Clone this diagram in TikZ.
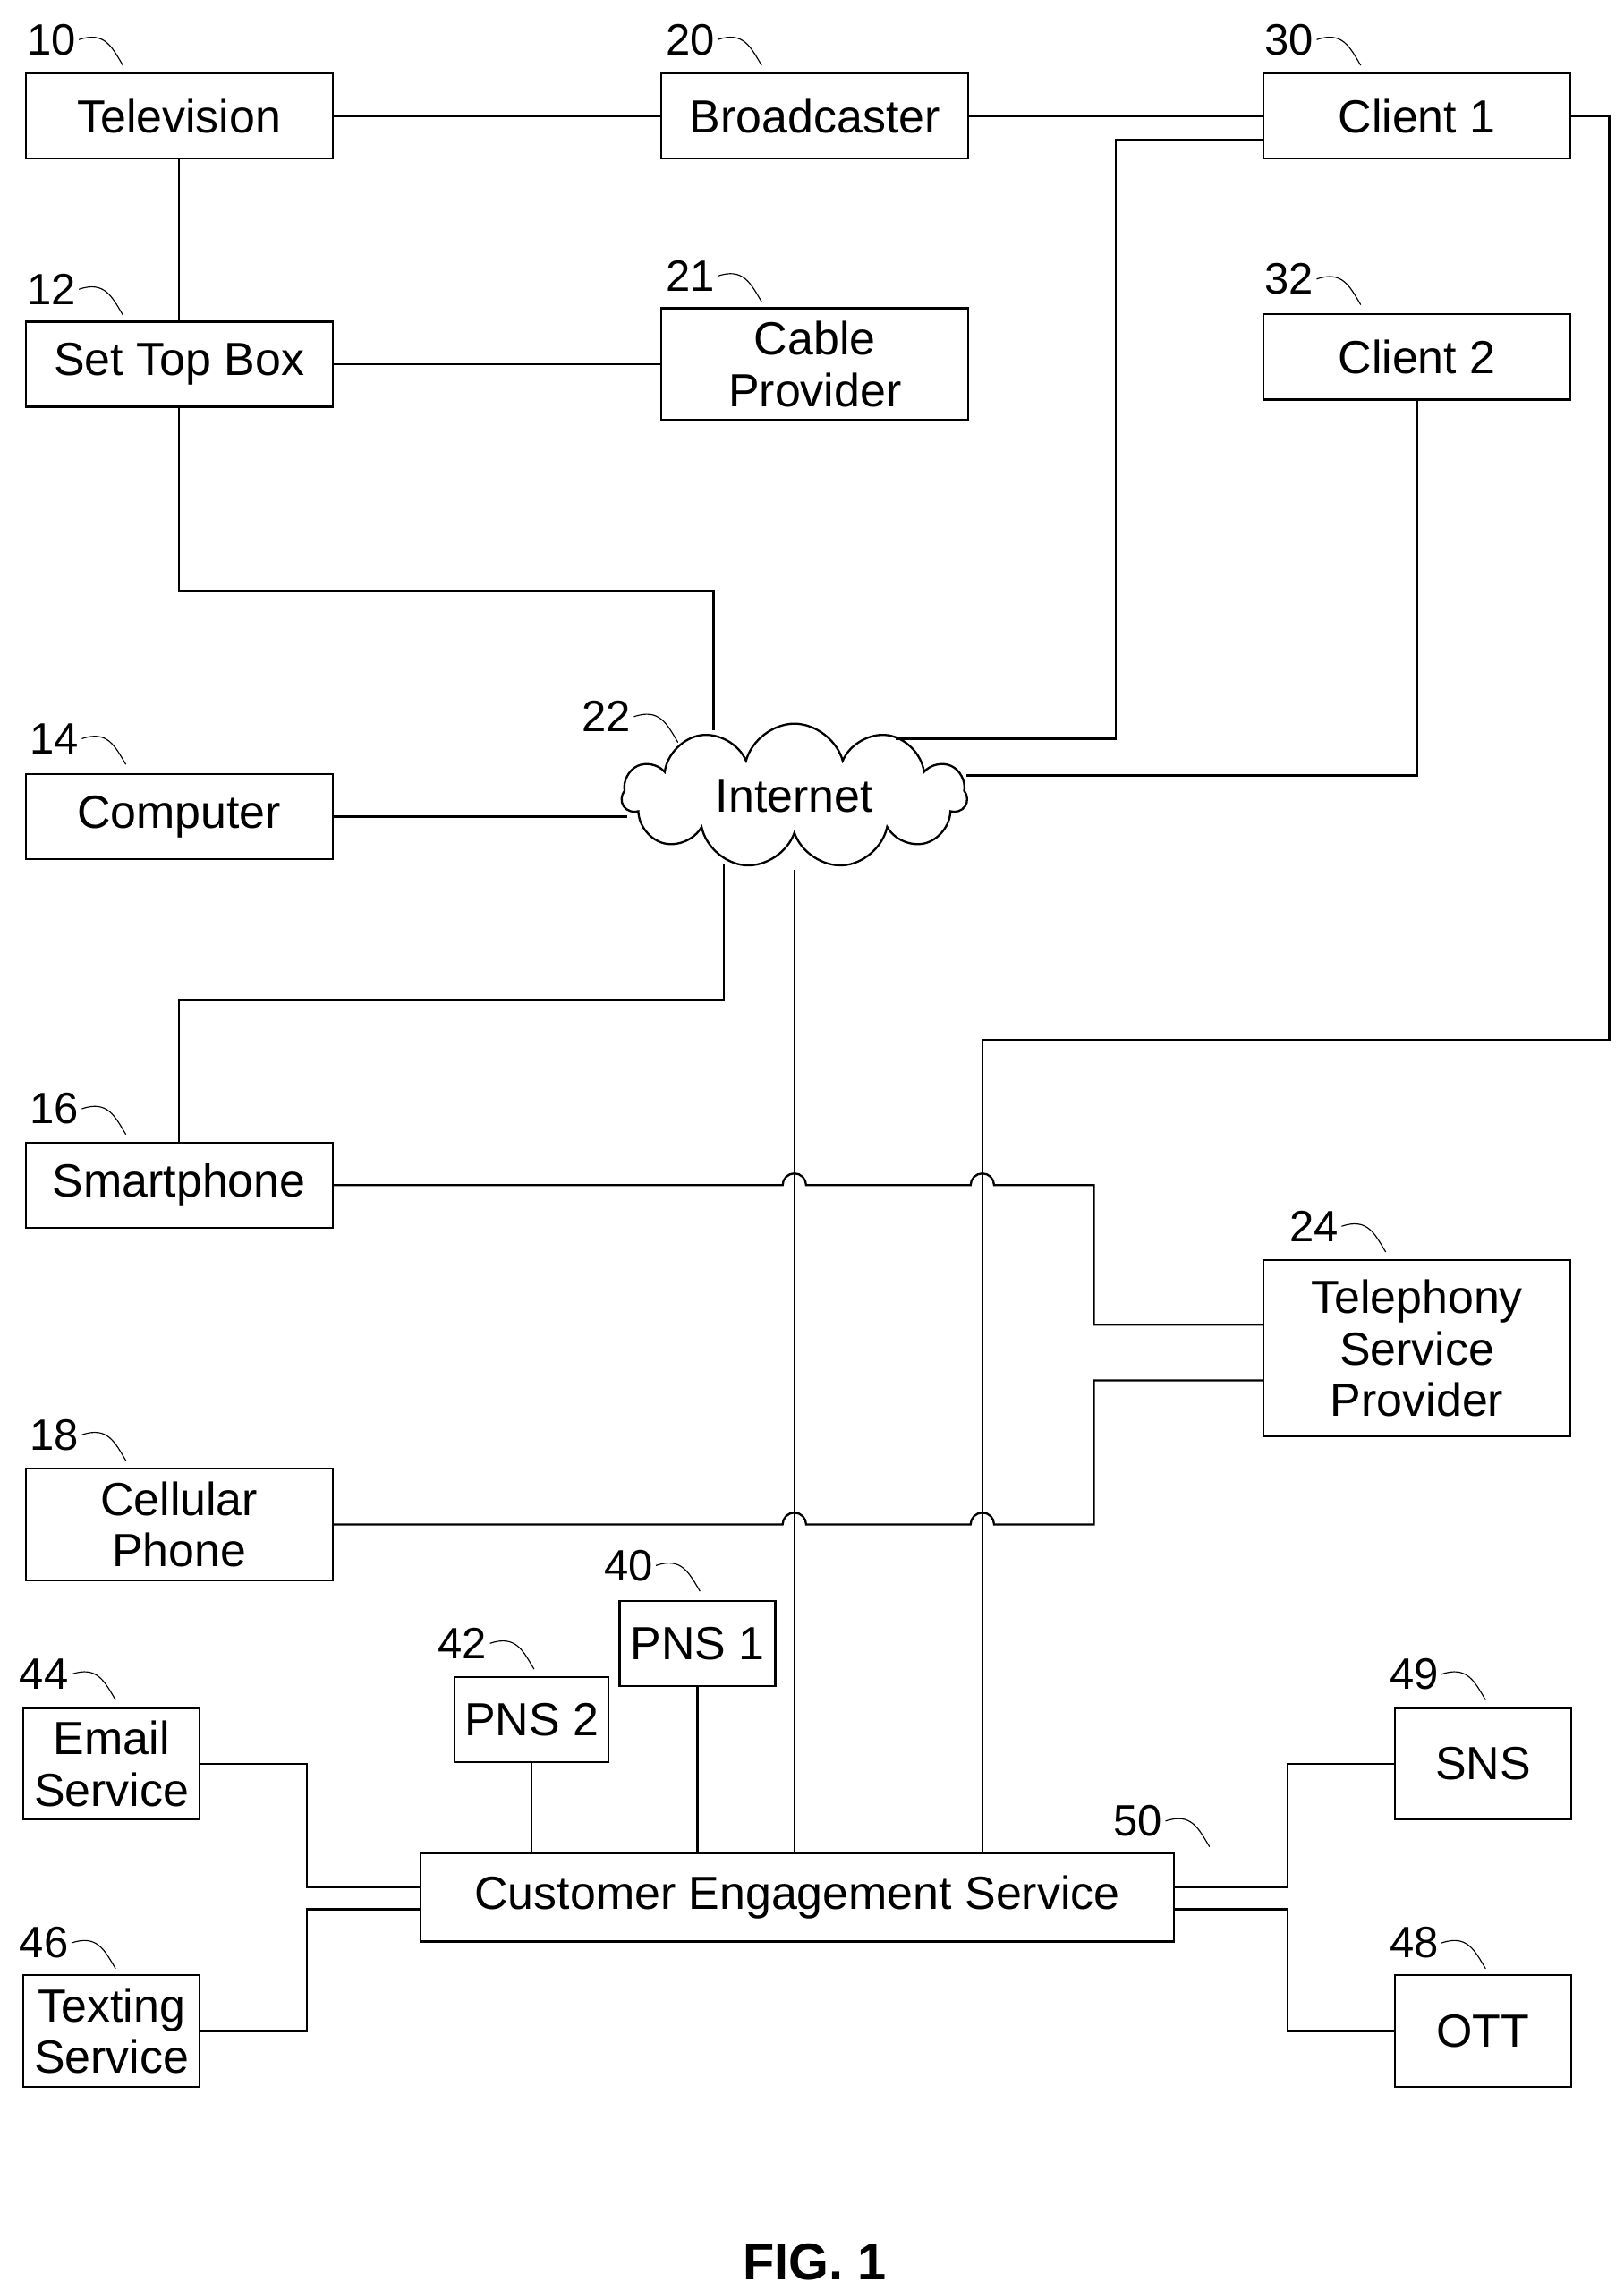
\documentclass[tikz,border=0pt]{standalone}
\usepackage{fontspec}
\setmainfont{Liberation Sans}
\usetikzlibrary{shapes.symbols}
\begin{document}
\begin{tikzpicture}
    [x=0.02cm,y=-0.02cm,
    box/.style={draw,thick,inner sep=0pt,align=center,font=\fontsize{18}{20}\selectfont,
        minimum width=4.18cm,minimum height=1.16cm},
    small box/.style={box,minimum width=2.4cm,minimum height=1.52cm},
    ref/.style={font=\fontsize{17}{18}\selectfont,inner sep=1pt},
    link/.style={thick},
    ]
    \useasboundingbox (0,0) rectangle (1106,1560);

    %boxes
    \node[box] (tv) at (122,79) {Television};
    \node[box] (bc) at (555,79) {Broadcaster};
    \node[box] (c1) at (965,79) {Client 1};
    \node[box] (stb) at (122,248) {Set Top Box};
    \node[box,minimum height=1.52cm] (cable) at (555,248) {Cable\\Provider};
    \node[box] (c2) at (965,243) {Client 2};
    \node[cloud,draw,thick,cloud puffs=11,aspect=2.6,minimum width=4.7cm,minimum height=1.9cm,
        font=\fontsize{18}{20}\selectfont] (inet) at (541,542) {Internet};
    \node[box] (comp) at (122,556) {Computer};
    \node[box] (sp) at (122,807) {Smartphone};
    \node[box,minimum height=2.4cm] (tel) at (965,918) {Telephony\\Service\\Provider};
    \node[box,minimum height=1.52cm] (cell) at (122,1038) {Cellular\\Phone};
    \node[box,minimum width=2.12cm] (pns1) at (475,1119) {PNS 1};
    \node[box,minimum width=2.1cm] (pns2) at (362,1171) {PNS 2};
    \node[small box] (email) at (76,1201) {Email\\Service};
    \node[small box] (text) at (76,1383) {Texting\\Service};
    \node[box,minimum width=10.26cm,minimum height=1.2cm] (ces) at (543,1292) {Customer Engagement Service};
    \node[small box] (sns) at (1010,1201) {SNS};
    \node[small box] (ott) at (1010,1383) {OTT};
    \node[font=\bfseries\fontsize{20}{22}\selectfont] (fig) at (555,1540) {FIG. 1};

    %reference numbers
    \foreach \n/\x/\y in {10/35/27, 20/470/27, 30/878/27, 12/35/197, 21/470/188, 32/878/190,
        22/413/488, 14/37/503, 16/37/755, 24/895/835, 18/37/977, 40/428/1066, 42/315/1119,
        44/30/1140, 46/30/1323, 50/775/1240, 49/963/1140, 48/963/1323}{
        \node[ref] (r\n) at (\x,\y) {\n};
        \draw (r\n.east) .. controls +(0.35cm,0.12cm) and +(-0.15cm,0.25cm) .. +(0.6cm,-0.35cm);
    }

    %connections
    \draw[link] (tv) -- (bc);
    \draw[link] (bc) -- (c1);
    \draw[link] (tv) -- (stb);
    \draw[link] (stb) -- (cable);
    \draw[link] (stb.south) |- (486,402) -- (486,497);
    \draw[link] (c1.west |- 0,95) -| (760,503) -- (610,503);
    \draw[link] (c2.south) |- (658,528);
    \draw[link] (comp) -- (427,556);
    \draw[link] (493,588) |- (122,681) -- (sp.north);
    \draw[link] (541,592) -- (ces.north -| 541,0);
    \draw[link] (c1.east |- 0,79) -| (1096,708) -| (669,1262);
    \draw[link] (sp.east) -- (533,807) arc[start angle=180,end angle=0,radius=0.16cm]
        -- (661,807) arc[start angle=180,end angle=0,radius=0.16cm] -- (745,807) |- (tel.west |- 0,902);
    \draw[link] (cell.east |- 0,1038) -- (533,1038) arc[start angle=180,end angle=0,radius=0.16cm]
        -- (661,1038) arc[start angle=180,end angle=0,radius=0.16cm] -- (745,1038) |- (tel.west |- 0,940);
    \draw[link] (pns1.south) -- (475,1262);
    \draw[link] (pns2.south) -- (362,1262);
    \draw[link] (email.east) -| (209,1285) -- (ces.west |- 0,1285);
    \draw[link] (text.east) -| (209,1300) -- (ces.west |- 0,1300);
    \draw[link] (ces.east |- 0,1285) -| (877,1201) -- (sns.west);
    \draw[link] (ces.east |- 0,1300) -| (877,1383) -- (ott.west);
\end{tikzpicture}
\end{document}
